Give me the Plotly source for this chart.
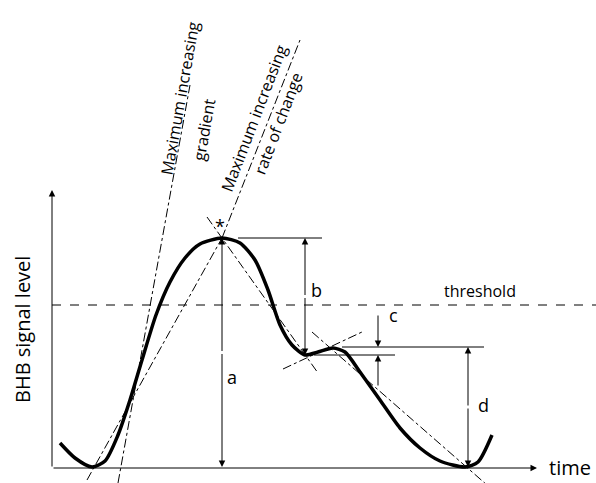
import plotly.graph_objects as go

# curve in picture units (x right, y down)
curve_x = [60, 75, 92, 105, 118, 130, 142, 156, 170, 185, 200, 222, 240, 255, 268, 280, 292, 305, 318, 333, 345, 360, 380, 400, 420, 440, 465, 478, 492]
curve_y = [443, 458, 467, 461, 435, 400, 360, 315, 282, 258, 244, 238, 243, 260, 290, 325, 345, 355, 352, 348, 352, 372, 400, 428, 448, 461, 467, 462, 435]

# dash-dot helper lines: (x0, y0, x1, y1)
helper_lines = [
    (118, 483, 190, 85),    # maximum increasing gradient
    (87, 480, 222, 238),    # maximum increasing rate of change
    (222, 238, 300, 40),
    (207, 217, 318, 373),   # peak to local minimum
    (283, 369, 362, 332),   # tangent at local minimum
    (312, 332, 487, 485),   # bump to final minimum
]

# solid level lines
level_lines = [(238, 238, 322, 238), (314, 355, 395, 355), (342, 347, 484, 347)]

# double arrows: (x, y_top, y_bottom)
double_arrows = [(222, 238, 467), (305, 238, 355), (468, 347, 467)]
labels = [("a", 232, 377), ("b", 316, 290), ("c", 393, 315), ("d", 483, 405)]

fig = go.Figure()
fig.add_trace(go.Scatter(x=curve_x, y=curve_y, mode="lines",
                         line=dict(color="black", width=3.5, shape="spline", smoothing=0.7),
                         showlegend=False, hoverinfo="skip"))

shapes = []
for x0, y0, x1, y1 in helper_lines:
    shapes.append(dict(type="line", x0=x0, y0=y0, x1=x1, y1=y1,
                       line=dict(color="black", width=1, dash="dashdot")))
for x0, y0, x1, y1 in level_lines:
    shapes.append(dict(type="line", x0=x0, y0=y0, x1=x1, y1=y1,
                       line=dict(color="black", width=1)))
shapes.append(dict(type="line", x0=52, y0=305, x1=596, y1=305,
                   line=dict(color="black", width=1, dash="dash")))
fig.update_layout(shapes=shapes)

ann = []
def arrow(x0, y0, x1, y1):
    # arrow pointing to (x1, y1) from (x0, y0)
    ann.append(dict(x=x1, y=y1, ax=x0, ay=y0, xref="x", yref="y", axref="x", ayref="y",
                    showarrow=True, arrowhead=2, arrowsize=1.3, arrowwidth=1,
                    arrowcolor="black", text=""))

for x, yt, yb in double_arrows:
    mid = (yt + yb) / 2
    arrow(x, mid, x, yt)
    arrow(x, mid, x, yb)
arrow(378, 314, 378, 347)
arrow(378, 387, 378, 355)
# axes
arrow(52, 468, 52, 190)
arrow(52, 468, 537, 468)

for t, x, y in labels:
    ann.append(dict(x=x, y=y, text=t, showarrow=False, font=dict(size=18)))
ann += [
    dict(x=480, y=291, text="threshold", showarrow=False, font=dict(size=16)),
    dict(x=570, y=467, text="time", showarrow=False, font=dict(size=20)),
    dict(x=22, y=330, text="BHB signal level", showarrow=False, textangle=-90, font=dict(size=20)),
    dict(x=220, y=226, text="*", showarrow=False, font=dict(size=18)),
    dict(x=180, y=98, text="Maximum increasing", showarrow=False, textangle=-80, font=dict(size=16)),
    dict(x=204, y=130, text="gradient", showarrow=False, textangle=-80, font=dict(size=16)),
    dict(x=254, y=118, text="Maximum increasing", showarrow=False, textangle=-69, font=dict(size=16)),
    dict(x=278, y=124, text="rate of change", showarrow=False, textangle=-69, font=dict(size=16)),
]
fig.update_layout(annotations=ann)

fig.update_layout(width=596, height=483, margin=dict(l=0, r=0, t=0, b=0),
                  plot_bgcolor="white", paper_bgcolor="white",
                  font=dict(family="Open Sans", color="black"),
                  xaxis=dict(range=[0, 596], visible=False, fixedrange=True),
                  yaxis=dict(range=[483, 0], visible=False, fixedrange=True))
fig.write_html("out.html", config={"displayModeBar": False},
               post_script="document.body.style.margin='0';")
